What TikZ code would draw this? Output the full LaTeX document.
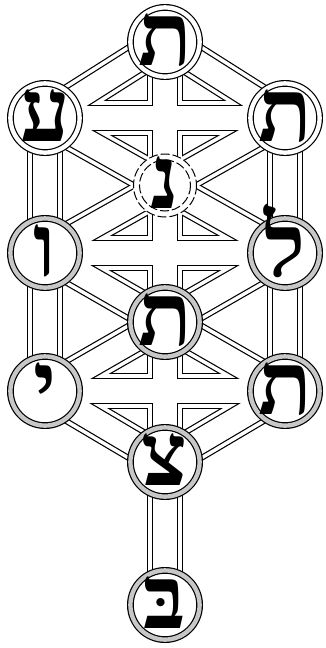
\documentclass[tikz,border=0pt]{standalone}
\usepackage{fontspec}
\newfontfamily\hebfont[Script=Hebrew]{Liberation Serif}
\TeXXeTstate=1
\definecolor{ringgray}{gray}{0.78}
\tikzset{
  seph/.style={circle, inner sep=0pt, minimum size=69.2pt, fill=white, draw=black,
    line width=1.2pt, double distance=4.4pt},
  sephtop/.style={seph, double=white},
  sephlow/.style={seph, double=ringgray},
  letter/.style={anchor=base, inner sep=0pt, text height=30pt, text depth=0pt,
    font=\hebfont\bfseries\fontsize{88}{88}\selectfont}
}
\begin{document}
\begin{tikzpicture}[x=1pt,y=-1pt]
\useasboundingbox (0,0) rectangle (325,648);
\fill[white] (0,0) rectangle (325,648);
\coordinate (k) at (165,42);
\coordinate (tl) at (45,118);
\coordinate (tr) at (285,118);
\coordinate (d) at (165,185.5);
\coordinate (ml) at (45,253);
\coordinate (mr) at (285,253);
\coordinate (t) at (165,322);
\coordinate (bl) at (45,391);
\coordinate (br) at (285,391);
\coordinate (y) at (165,462);
\coordinate (m) at (165,605);
\foreach \w/\c in {36/black, 33.6/white, 26.4/black, 24/white}{
  \foreach \a/\b in {k/tl, k/tr, k/t, tl/tr, tl/ml, tr/mr, tl/mr, tr/ml, ml/mr,
                     ml/bl, mr/br, ml/br, mr/bl, bl/br, bl/y, br/y, t/y, y/m}{
    \draw[line width=\w pt, draw=\c] (\a) -- (\b);
  }
}
\node[sephtop] (nk) at (k) {};
\node[sephtop] (ntl) at (tl) {};
\node[sephtop] (ntr) at (tr) {};
\node[circle, inner sep=0pt, minimum size=64pt, fill=white] (nd) at (d) {};
\draw[line width=1pt, dash pattern=on 9pt off 3pt] (d) circle (31.5);
\draw[line width=1pt, dash pattern=on 9pt off 3pt] (d) circle (25.5);
\node[sephlow] (nml) at (ml) {};
\node[sephlow] (nmr) at (mr) {};
\node[sephlow] (nt) at (t) {};
\node[sephlow] (nbl) at (bl) {};
\node[sephlow] (nbr) at (br) {};
\node[sephlow] (ny) at (y) {};
\node[sephlow] (nm) at (m) {};
\path (k) ++(0,23) node[letter] (lk) {ת};
\path (tl) ++(0,23) node[letter] (ltl) {ע};
\path (tr) ++(0,23) node[letter] (ltr) {ת};
\path (d) ++(0,23) node[letter] (ld) {נ};
\path (ml) ++(0,23) node[letter] (lml) {ו};
\path (mr) ++(0,23) node[letter] (lmr) {ל};
\path (t) ++(0,23) node[letter] (lt) {ת};
\path (bl) ++(0,23) node[letter] (lbl) {י};
\path (br) ++(0,23) node[letter] (lbr) {ת};
\path (y) ++(0,23) node[letter] (ly) {צ};
\path (m) ++(0,23) node[letter] (lm) {בּ};
\end{tikzpicture}
\end{document}
